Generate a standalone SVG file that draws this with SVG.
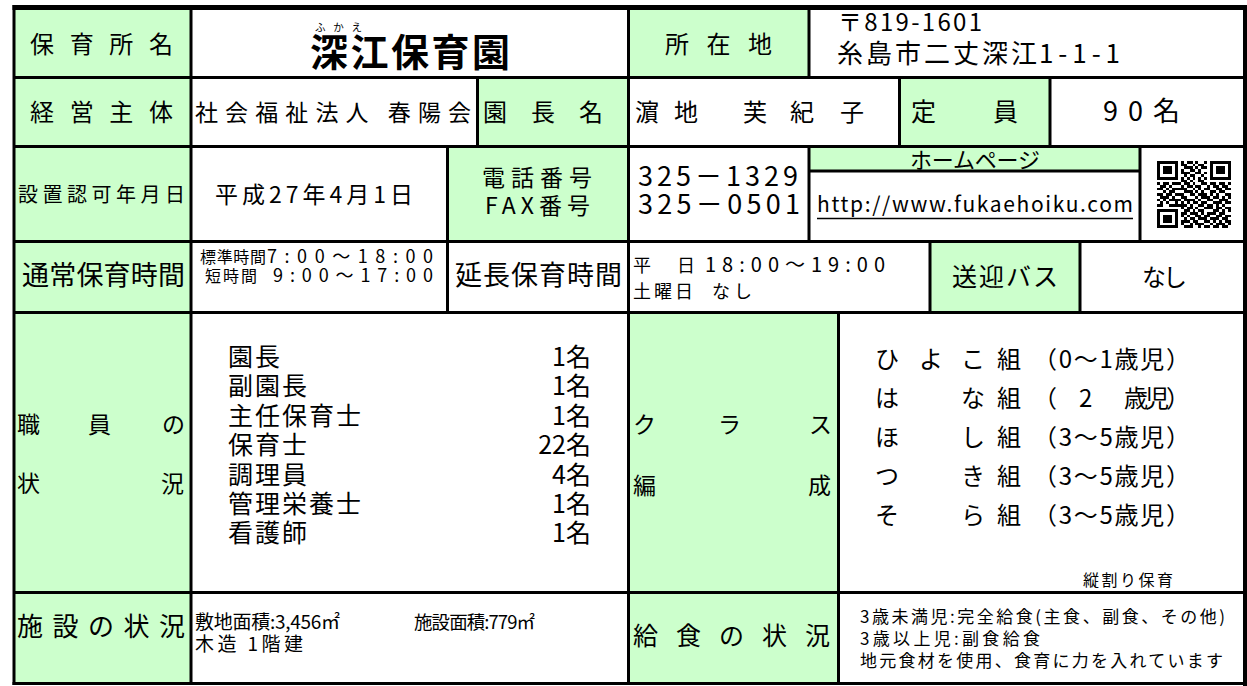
<svg xmlns="http://www.w3.org/2000/svg" width="1247" height="686" viewBox="0 0 1247 686">
<style>
.t{font-family:'Noto Sans CJK JP','Noto Sans CJK SC',sans-serif;fill:#000}
.g{fill:#CCFFCC}
.w{fill:#FFFFFF}
.ln{stroke:#000;stroke-width:3;fill:none}
</style>
<rect x="0" y="0" width="1247" height="686" class="w"/>

<g id="cell-hoikusho-label"><rect class="g" x="14" y="7" width="177" height="71"/><text class="t" x="30" y="53" font-size="24" textLength="143" lengthAdjust="spacing">保育所名</text></g>
<g id="cell-name"><text class="t" x="315" y="31" font-size="10.5" textLength="47" lengthAdjust="spacing">ふかえ</text><text class="t" x="310" y="66" font-size="38" font-weight="bold" textLength="200" lengthAdjust="spacing">深江保育園</text></g>
<g id="cell-shozaichi-label"><rect class="g" x="628.5" y="7" width="180.5" height="71"/><text class="t" x="665" y="53" font-size="24" textLength="107" lengthAdjust="spacing">所在地</text></g>
<g id="cell-address"><text class="t" x="838" y="31" font-size="24" textLength="144" lengthAdjust="spacing">〒819-1601</text><text class="t" y="63" font-size="26"><tspan x="837" textLength="200" lengthAdjust="spacing">糸島市二丈深江</tspan><tspan x="1039" textLength="81" lengthAdjust="spacing">1-1-1</tspan></text></g>

<g id="cell-keiei-label"><rect class="g" x="14" y="77.5" width="177" height="69"/><text class="t" x="30" y="121" font-size="24" textLength="143" lengthAdjust="spacing">経営主体</text></g>
<g id="cell-keiei"><text class="t" x="195" y="121" font-size="23" textLength="276" lengthAdjust="spacing">社会福祉法人 春陽会</text></g>
<g id="cell-enchou-label"><rect class="g" x="477.5" y="77.5" width="151" height="69"/><text class="t" x="483" y="121" font-size="24" textLength="120" lengthAdjust="spacing">園長名</text></g>
<g id="cell-enchou"><text class="t" y="121" font-size="24"><tspan x="635">濵</tspan><tspan x="674">地</tspan><tspan x="743">芙</tspan><tspan x="790">紀</tspan><tspan x="840">子</tspan></text></g>
<g id="cell-teiin-label"><rect class="g" x="899.5" y="77.5" width="150.5" height="69"/><text class="t" y="121" font-size="25"><tspan x="911">定</tspan><tspan x="993">員</tspan></text></g>
<g id="cell-teiin"><text class="t" x="1103" y="121" font-size="27" textLength="77" lengthAdjust="spacing">90名</text></g>

<g id="cell-ninka-label"><rect class="g" x="14" y="146.5" width="177" height="95"/><text class="t" x="18" y="202" font-size="20" textLength="167" lengthAdjust="spacing">設置認可年月日</text></g>
<g id="cell-ninka"><text class="t" x="215" y="203" font-size="23" textLength="198" lengthAdjust="spacing">平成27年4月1日</text></g>
<g id="cell-tel-label"><rect class="g" x="447.5" y="146.5" width="181" height="95"/><text class="t" x="482" y="186" font-size="23" textLength="110" lengthAdjust="spacing">電話番号</text><text class="t" x="485" y="214" font-size="23" textLength="105" lengthAdjust="spacing">FAX番号</text></g>
<g id="cell-tel"><text class="t" x="638" y="186" font-size="27" textLength="160" lengthAdjust="spacing">325－1329</text><text class="t" x="638" y="214" font-size="27" textLength="162" lengthAdjust="spacing">325－0501</text></g>
<g id="cell-homepage-label"><rect class="g" x="809" y="146.5" width="331" height="24.5"/><text class="t" x="910" y="168" font-size="22" textLength="130" lengthAdjust="spacing">ホームページ</text></g>
<g id="cell-homepage"><text class="t" x="817" y="212" font-size="21" textLength="316" lengthAdjust="spacing">http://www.fukaehoiku.com</text><line x1="817" y1="218.5" x2="1133" y2="218.5" stroke="#000" stroke-width="1.3"/></g>
<g id="cell-qr">
<g transform="translate(1157,161) scale(2.96,2.68)" fill="#000" shape-rendering="crispEdges">
<path fill-rule="evenodd" d="M0 0h7v7h-7zM1 1v5h5v-5zM2 2h3v3h-3zM18 0h7v7h-7zM19 1v5h5v-5zM20 2h3v3h-3zM0 18h7v7h-7zM1 19v5h5v-5zM2 20h3v3h-3z"/>
<path d="M8 0h1v1h-1zM10 0h2v1h-2zM13 0h1v1h-1zM16 0h1v1h-1zM8 1h2v1h-2zM12 1h1v1h-1zM14 1h2v1h-2zM9 2h3v1h-3zM13 2h1v1h-1zM15 2h2v1h-2zM8 3h1v1h-1zM11 3h2v1h-2zM14 3h1v1h-1zM8 4h3v1h-3zM13 4h2v1h-2zM16 4h1v1h-1zM9 5h1v1h-1zM11 5h2v1h-2zM15 5h1v1h-1zM8 6h1v1h-1zM10 6h1v1h-1zM12 6h1v1h-1zM14 6h1v1h-1zM16 6h1v1h-1zM8 7h2v1h-2zM11 7h1v1h-1zM14 7h2v1h-2zM0 8h1v1h-1zM2 8h2v1h-2zM5 8h3v1h-3zM9 8h2v1h-2zM12 8h1v1h-1zM15 8h2v1h-2zM18 8h2v1h-2zM21 8h2v1h-2zM24 8h1v1h-1zM1 9h2v1h-2zM4 9h1v1h-1zM8 9h1v1h-1zM10 9h2v1h-2zM13 9h2v1h-2zM17 9h1v1h-1zM19 9h2v1h-2zM22 9h2v1h-2zM0 10h2v1h-2zM3 10h1v1h-1zM5 10h5v1h-5zM12 10h1v1h-1zM14 10h1v1h-1zM16 10h2v1h-2zM20 10h2v1h-2zM23 10h2v1h-2zM2 11h1v1h-1zM4 11h2v1h-2zM9 11h3v1h-3zM13 11h1v1h-1zM15 11h1v1h-1zM18 11h2v1h-2zM21 11h2v1h-2zM0 12h2v1h-2zM3 12h2v1h-2zM6 12h3v1h-3zM11 12h2v1h-2zM14 12h3v1h-3zM18 12h1v1h-1zM20 12h1v1h-1zM23 12h2v1h-2zM1 13h3v1h-3zM5 13h1v1h-1zM8 13h2v1h-2zM13 13h1v1h-1zM15 13h3v1h-3zM19 13h2v1h-2zM22 13h1v1h-1zM24 13h1v1h-1zM0 14h1v1h-1zM2 14h1v1h-1zM4 14h4v1h-4zM9 14h4v1h-4zM14 14h1v1h-1zM17 14h2v1h-2zM21 14h3v1h-3zM1 15h1v1h-1zM3 15h1v1h-1zM6 15h1v1h-1zM8 15h1v1h-1zM10 15h1v1h-1zM12 15h2v1h-2zM15 15h2v1h-2zM19 15h3v1h-3zM23 15h2v1h-2zM0 16h2v1h-2zM4 16h6v1h-6zM11 16h1v1h-1zM14 16h2v1h-2zM17 16h2v1h-2zM20 16h1v1h-1zM22 16h1v1h-1zM8 17h1v1h-1zM10 17h2v1h-2zM13 17h1v1h-1zM16 17h3v1h-3zM20 17h2v1h-2zM23 17h2v1h-2zM9 18h2v1h-2zM12 18h1v1h-1zM14 18h2v1h-2zM19 18h2v1h-2zM22 18h1v1h-1zM24 18h1v1h-1zM8 19h2v1h-2zM11 19h3v1h-3zM15 19h1v1h-1zM17 19h3v1h-3zM21 19h2v1h-2zM8 20h1v1h-1zM10 20h1v1h-1zM13 20h2v1h-2zM16 20h2v1h-2zM20 20h2v1h-2zM23 20h2v1h-2zM9 21h1v1h-1zM11 21h2v1h-2zM14 21h3v1h-3zM18 21h3v1h-3zM22 21h2v1h-2zM8 22h3v1h-3zM12 22h2v1h-2zM16 22h2v1h-2zM19 22h1v1h-1zM21 22h1v1h-1zM23 22h2v1h-2zM8 23h1v1h-1zM11 23h1v1h-1zM13 23h3v1h-3zM18 23h1v1h-1zM20 23h3v1h-3zM24 23h1v1h-1zM9 24h3v1h-3zM14 24h1v1h-1zM16 24h2v1h-2zM19 24h2v1h-2zM22 24h2v1h-2z"/>
</g></g>

<g id="cell-tsujo-label"><rect class="g" x="14" y="241.5" width="177" height="71"/><text class="t" x="22" y="285" font-size="27" textLength="163" lengthAdjust="spacing">通常保育時間</text></g>
<g id="cell-tsujo"><text class="t" y="263" font-size="16"><tspan x="200" textLength="66" lengthAdjust="spacing">標準時間</tspan><tspan x="267" font-size="18" textLength="166" lengthAdjust="spacing">7:00～18:00</tspan></text><text class="t" y="282" font-size="16"><tspan x="205" textLength="52" lengthAdjust="spacing">短時間</tspan><tspan x="273" font-size="18" textLength="160" lengthAdjust="spacing">9:00～17:00</tspan></text></g>
<g id="cell-encho-label"><text class="t" x="455" y="285" font-size="27" textLength="167" lengthAdjust="spacing">延長保育時間</text></g>
<g id="cell-encho"><text class="t" y="272" font-size="18"><tspan x="633">平</tspan><tspan x="677">日</tspan><tspan x="705" font-size="20" textLength="180" lengthAdjust="spacing">18:00～19:00</tspan></text><text class="t" y="298" font-size="18"><tspan x="633" textLength="60" lengthAdjust="spacing">土曜日</tspan><tspan x="712" textLength="40" lengthAdjust="spacing">なし</tspan></text></g>
<g id="cell-bus-label"><rect class="g" x="930" y="241.5" width="150" height="71"/><text class="t" x="952" y="286" font-size="25" textLength="106" lengthAdjust="spacing">送迎バス</text></g>
<g id="cell-bus"><text class="t" x="1142" y="286" font-size="24" textLength="45" lengthAdjust="spacing">なし</text></g>

<g id="cell-shokuin-label"><rect class="g" x="14" y="312.5" width="177" height="371"/><text class="t" y="433" font-size="23"><tspan x="17">職</tspan><tspan x="88">員</tspan><tspan x="162">の</tspan></text><text class="t" y="492" font-size="23"><tspan x="17">状</tspan><tspan x="161">況</tspan></text></g>
<g id="cell-shokuin"><text class="t" x="228" font-size="25" letter-spacing="2"><tspan x="228" y="366">園長</tspan><tspan x="228" y="395.4">副園長</tspan><tspan x="228" y="424.8">主任保育士</tspan><tspan x="228" y="454.2">保育士</tspan><tspan x="228" y="483.6">調理員</tspan><tspan x="228" y="513">管理栄養士</tspan><tspan x="228" y="542.4">看護師</tspan></text>
<text class="t" font-size="25" text-anchor="end"><tspan x="591" y="366">1名</tspan><tspan x="591" y="395.4">1名</tspan><tspan x="591" y="424.8">1名</tspan><tspan x="591" y="454.2">22名</tspan><tspan x="591" y="483.6">4名</tspan><tspan x="591" y="513">1名</tspan><tspan x="591" y="542.4">1名</tspan></text></g>
<g id="cell-class-label"><rect class="g" x="628.5" y="312.5" width="210" height="371"/><text class="t" y="433" font-size="23"><tspan x="633">ク</tspan><tspan x="718">ラ</tspan><tspan x="809">ス</tspan></text><text class="t" y="494" font-size="23"><tspan x="633">編</tspan><tspan x="808">成</tspan></text></g>
<g id="cell-class" font-size="24">
<text class="t" y="368"><tspan x="875">ひ</tspan><tspan x="919">よ</tspan><tspan x="961">こ</tspan><tspan x="997">組</tspan><tspan x="1033" textLength="157" lengthAdjust="spacing">（0～1歳児）</tspan></text>
<text class="t" y="407"><tspan x="875">は</tspan><tspan x="961">な</tspan><tspan x="997">組</tspan><tspan x="1033">（</tspan><tspan x="1079">2</tspan><tspan x="1124" textLength="66" lengthAdjust="spacing">歳児）</tspan></text>
<text class="t" y="446"><tspan x="875">ほ</tspan><tspan x="961">し</tspan><tspan x="997">組</tspan><tspan x="1033" textLength="157" lengthAdjust="spacing">（3～5歳児）</tspan></text>
<text class="t" y="485"><tspan x="875">つ</tspan><tspan x="961">き</tspan><tspan x="997">組</tspan><tspan x="1033" textLength="157" lengthAdjust="spacing">（3～5歳児）</tspan></text>
<text class="t" y="524"><tspan x="875">そ</tspan><tspan x="961">ら</tspan><tspan x="997">組</tspan><tspan x="1033" textLength="157" lengthAdjust="spacing">（3～5歳児）</tspan></text>
<text class="t" x="1083" y="586" font-size="16" textLength="90" lengthAdjust="spacing">縦割り保育</text>
</g>

<g id="cell-shisetsu-label"><text class="t" x="17" y="636" font-size="26" textLength="168" lengthAdjust="spacing">施設の状況</text></g>
<g id="cell-shisetsu"><text class="t" x="195" y="629" font-size="19" textLength="145" lengthAdjust="spacing">敷地面積:3,456㎡</text><text class="t" x="414" y="629" font-size="18.5" textLength="121" lengthAdjust="spacing">施設面積:779㎡</text><text class="t" x="195" y="651" font-size="19" textLength="108" lengthAdjust="spacing">木造 1階建</text></g>
<g id="cell-kyushoku-label"><text class="t" x="633" y="645" font-size="25" textLength="197" lengthAdjust="spacing">給食の状況</text></g>
<g id="cell-kyushoku"><text class="t" x="860" y="623" font-size="17" textLength="365" lengthAdjust="spacing">3歳未満児:完全給食(主食、副食、その他)</text><text class="t" x="860" y="645" font-size="17" textLength="180" lengthAdjust="spacing">3歳以上児:副食給食</text><text class="t" x="860" y="667" font-size="17" textLength="363" lengthAdjust="spacing">地元食材を使用、食育に力を入れています</text></g>

<g id="grid" class="ln">
<path d="M14 77.5H1247M14 146.5H1247M14 241.5H1247M14 312.5H1247M14 592.5H1247M809 171H1140"/>
<path d="M191 5V685M628.5 5V685M809 5V77.5M809 146.5V241.5M477.5 77.5V146.5M899.5 77.5V146.5M1050 77.5V146.5M447.5 146.5V312.5M1140 146.5V241.5M930 241.5V312.5M1080 241.5V312.5M838.5 312.5V685"/>
<path d="M12.5 7.5H1247" stroke-width="5"/>
<path d="M14 5V685"/>
<path d="M1245 5V686" stroke-width="4"/>
<path d="M12.5 683.5H1247"/>
</g>
</svg>
